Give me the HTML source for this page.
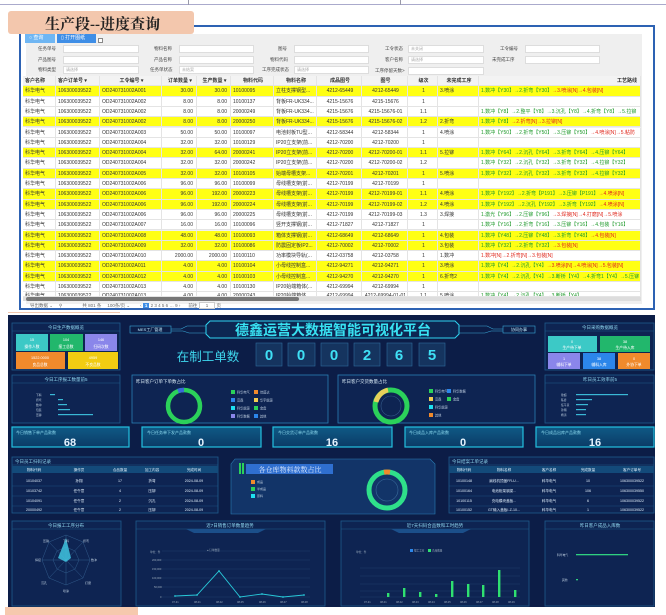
<!DOCTYPE html>
<html><head><meta charset="utf-8">
<style>
*{margin:0;padding:0;box-sizing:border-box}
body{width:666px;height:615px;background:#fff;position:relative;overflow:hidden;font-family:"Liberation Sans","Noto Sans CJK SC",sans-serif}
.abs{position:absolute}
.tab{left:8px;top:11px;width:186px;height:23px;background:#f3c7ad;border-radius:3px}
.tab span{position:absolute;left:37px;top:2px;font-family:"Liberation Serif","Noto Serif CJK SC",serif;font-size:15px;font-weight:bold;color:#222}
.frame{left:19px;top:25px;width:636px;height:285px;border:2px solid #2d62b3;background:#fff}
.gray{left:26px;top:34px;width:616px;height:270px;background:#efefef}
.btn{height:9px;font-size:5px;color:#fff;line-height:9px;padding-left:4px}
.lbl{font-size:4.5px;color:#444}
.inp{height:8px;background:#fff;border:1px solid #ddd}
.row{position:absolute;left:23px;width:618px;height:10.3px;display:flex;font-size:5px;line-height:10.3px;color:#333;border-bottom:1px solid #e4e4e4;background:#fff}
.row.y{background:#ffff14}
.row div{overflow:hidden;white-space:nowrap;padding-left:2px;border-right:1px solid #e4e4e4}
.row .r{text-align:right;padding-right:3px}
.row .c{text-align:center}
.hd{background:#f3f3f3;font-weight:bold;color:#333}
.g{color:#1e9a2a}.rd{color:#e0281c}
</style></head><body>
<div class="abs" style="left:0;top:0;width:666px;height:5px;border-bottom:1px solid #aac"></div>
<div class="abs" style="left:188px;top:0;width:1px;height:5px;background:#99a"></div>
<div class="abs" style="left:400px;top:0;width:1px;height:5px;background:#99a"></div>
<div class="abs frame"></div>
<div class="abs tab"><span>生产段--进度查询</span></div>
<div class="abs gray"></div>
<div class="abs btn" style="left:25px;top:34px;width:30px;background:#6fb6f3">○ 查询</div>
<div class="abs btn" style="left:57px;top:34px;width:39px;background:#3f8ee6">▯ 打开图纸</div>
<div class="abs" style="left:98px;top:38px;width:5px;height:5px;border:1px solid #888;background:#fff"></div>
<div class="abs lbl" style="left:38px;top:46px">任务单号</div><div class="abs inp" style="left:63px;top:45px;width:76px"></div>
<div class="abs lbl" style="left:154px;top:46px">物料名称</div><div class="abs inp" style="left:179px;top:45px;width:75px"></div>
<div class="abs lbl" style="left:278px;top:46px">图号</div><div class="abs inp" style="left:294px;top:45px;width:75px"></div>
<div class="abs lbl" style="left:385px;top:46px">工令状态</div><div class="abs inp" style="left:408px;top:45px;width:76px;font-size:4px;color:#aaa;padding-left:2px">未关闭</div>
<div class="abs lbl" style="left:500px;top:46px">工令编号</div><div class="abs inp" style="left:525px;top:45px;width:75px"></div>
<div class="abs lbl" style="left:38px;top:57px">产品图号</div><div class="abs inp" style="left:63px;top:56px;width:76px"></div>
<div class="abs lbl" style="left:154px;top:57px">产品名称</div><div class="abs inp" style="left:179px;top:56px;width:75px"></div>
<div class="abs lbl" style="left:270px;top:57px">物料代码</div><div class="abs inp" style="left:294px;top:56px;width:75px"></div>
<div class="abs lbl" style="left:385px;top:57px">客户名称</div><div class="abs inp" style="left:408px;top:56px;width:76px;font-size:4px;color:#aaa;padding-left:2px">请选择</div>
<div class="abs lbl" style="left:492px;top:57px">未完成工序</div><div class="abs inp" style="left:525px;top:56px;width:75px"></div>
<div class="abs lbl" style="left:38px;top:67px">物料类型</div><div class="abs inp" style="left:63px;top:66px;width:76px;font-size:4px;color:#aaa;padding-left:2px">请选择</div>
<div class="abs lbl" style="left:150px;top:67px">任务单状态</div><div class="abs inp" style="left:179px;top:66px;width:75px;font-size:4px;color:#aaa;padding-left:2px">未结案</div>
<div class="abs lbl" style="left:262px;top:67px">工序完成状态</div><div class="abs inp" style="left:294px;top:66px;width:75px;font-size:4px;color:#aaa;padding-left:2px">请选择</div>
<div class="abs lbl" style="left:375px;top:68px">工序停留天数&gt;</div><div class="abs inp" style="left:408px;top:67px;width:76px"></div>
<div class="row hd" style="top:76px">
<div style="width:33px">客户名称</div><div style="width:44px">客户订单号 ▾</div><div class="c" style="width:62px">工令编号 ▾</div><div class="c" style="width:35px">订单数量 ▾</div><div class="c" style="width:34px">生产数量 ▾</div><div class="c" style="width:43px">物料代码</div><div class="c" style="width:43px">物料名称</div><div class="c" style="width:45px">成品图号</div><div class="c" style="width:46px">图号</div><div class="c" style="width:30px">级次</div><div class="c" style="width:41px">未完成工序</div><div style="width:162px;text-align:right;padding-right:3px">工艺路线</div></div>

<div class="row y" style="top:86.3px"><div style="width:33px">科华电气</div><div style="width:44px">106300039522</div><div style="width:62px">OD240731002A001</div><div class="r" style="width:35px">30.00</div><div class="r" style="width:34px">30.00</div><div style="width:43px">10100095</div><div style="width:43px">立柱支撑钢型...</div><div class="c" style="width:45px">4212-65449</div><div class="c" style="width:46px">4212-65449</div><div class="c" style="width:30px">1</div><div style="width:41px">3.喷涂</div><div style="width:162px"><span class="g">1.数冲【Y30】→2.折弯【Y30】</span><span class="rd">→3.喷涂[N]→4.包装[N]</span></div></div>
<div class="row" style="top:96.6px"><div style="width:33px">科华电气</div><div style="width:44px">106300039522</div><div style="width:62px">OD240731002A002</div><div class="r" style="width:35px">8.00</div><div class="r" style="width:34px">8.00</div><div style="width:43px">10100137</div><div style="width:43px">背板FR-UK334...</div><div class="c" style="width:45px">4215-15676</div><div class="c" style="width:46px">4215-15676</div><div class="c" style="width:30px">1</div><div style="width:41px"></div><div style="width:162px"></div></div>
<div class="row" style="top:106.9px"><div style="width:33px">科华电气</div><div style="width:44px">106300039522</div><div style="width:62px">OD240731002A002</div><div class="r" style="width:35px">8.00</div><div class="r" style="width:34px">8.00</div><div style="width:43px">20000249</div><div style="width:43px">背板FR-UK334...</div><div class="c" style="width:45px">4215-15676</div><div class="c" style="width:46px">4215-15676-01</div><div class="c" style="width:30px">1.1</div><div style="width:41px"></div><div style="width:162px" class="g">1.数冲【Y8】→2.整平【Y8】→3.沉孔【Y8】→4.折弯【Y8】→5.拉铆</div></div>
<div class="row y" style="top:117.2px"><div style="width:33px">科华电气</div><div style="width:44px">106300039522</div><div style="width:62px">OD240731002A002</div><div class="r" style="width:35px">8.00</div><div class="r" style="width:34px">8.00</div><div style="width:43px">20000250</div><div style="width:43px">背板FR-UK334...</div><div class="c" style="width:45px">4215-15676</div><div class="c" style="width:46px">4215-15676-02</div><div class="c" style="width:30px">1.2</div><div style="width:41px">2.折弯</div><div style="width:162px"><span class="g">1.数冲【Y8】</span><span class="rd">→2.折弯[N]→3.拉铆[N]</span></div></div>
<div class="row" style="top:127.5px"><div style="width:33px">科华电气</div><div style="width:44px">106300039522</div><div style="width:62px">OD240731002A003</div><div class="r" style="width:35px">50.00</div><div class="r" style="width:34px">50.00</div><div style="width:43px">10100097</div><div style="width:43px">电池封板TU型...</div><div class="c" style="width:45px">4212-58344</div><div class="c" style="width:46px">4212-58344</div><div class="c" style="width:30px">1</div><div style="width:41px">4.喷涂</div><div style="width:162px"><span class="g">1.数冲【Y50】→2.折弯【Y50】→3.压铆【Y50】</span><span class="rd">→4.喷涂[N]→5.粘防</span></div></div>
<div class="row" style="top:137.8px"><div style="width:33px">科华电气</div><div style="width:44px">106300039522</div><div style="width:62px">OD240731002A004</div><div class="r" style="width:35px">32.00</div><div class="r" style="width:34px">32.00</div><div style="width:43px">10100129</div><div style="width:43px">IP20立支架(前...</div><div class="c" style="width:45px">4212-70200</div><div class="c" style="width:46px">4212-70200</div><div class="c" style="width:30px">1</div><div style="width:41px"></div><div style="width:162px"></div></div>
<div class="row y" style="top:148.1px"><div style="width:33px">科华电气</div><div style="width:44px">106300039522</div><div style="width:62px">OD240731002A004</div><div class="r" style="width:35px">32.00</div><div class="r" style="width:34px">64.00</div><div style="width:43px">20000241</div><div style="width:43px">IP20立支架(前...</div><div class="c" style="width:45px">4212-70200</div><div class="c" style="width:46px">4212-70200-01</div><div class="c" style="width:30px">1.1</div><div style="width:41px">5.拉铆</div><div style="width:162px"><span class="g">1.数冲【Y64】→2.沉孔【Y64】→3.折弯【Y64】→4.压铆【Y64】</span></div></div>
<div class="row" style="top:158.4px"><div style="width:33px">科华电气</div><div style="width:44px">106300039522</div><div style="width:62px">OD240731002A004</div><div class="r" style="width:35px">32.00</div><div class="r" style="width:34px">32.00</div><div style="width:43px">20000242</div><div style="width:43px">IP20立支架(前...</div><div class="c" style="width:45px">4212-70200</div><div class="c" style="width:46px">4212-70200-02</div><div class="c" style="width:30px">1.2</div><div style="width:41px"></div><div style="width:162px" class="g">1.数冲【Y32】→2.沉孔【Y32】→3.折弯【Y32】→4.拉铆【Y32】</div></div>
<div class="row y" style="top:168.7px"><div style="width:33px">科华电气</div><div style="width:44px">106300039522</div><div style="width:62px">OD240731002A005</div><div class="r" style="width:35px">32.00</div><div class="r" style="width:34px">32.00</div><div style="width:43px">10100105</div><div style="width:43px">始端母槽支架...</div><div class="c" style="width:45px">4212-70201</div><div class="c" style="width:46px">4212-70201</div><div class="c" style="width:30px">1</div><div style="width:41px">5.喷涂</div><div style="width:162px" class="g">1.数冲【Y32】→2.沉孔【Y32】→3.折弯【Y32】→4.拉铆【Y32】</div></div>
<div class="row" style="top:179px"><div style="width:33px">科华电气</div><div style="width:44px">106300039522</div><div style="width:62px">OD240731002A006</div><div class="r" style="width:35px">96.00</div><div class="r" style="width:34px">96.00</div><div style="width:43px">10100099</div><div style="width:43px">母线槽支架(前...</div><div class="c" style="width:45px">4212-70199</div><div class="c" style="width:46px">4212-70199</div><div class="c" style="width:30px">1</div><div style="width:41px"></div><div style="width:162px"></div></div>
<div class="row y" style="top:189.3px"><div style="width:33px">科华电气</div><div style="width:44px">106300039522</div><div style="width:62px">OD240731002A006</div><div class="r" style="width:35px">96.00</div><div class="r" style="width:34px">192.00</div><div style="width:43px">20000223</div><div style="width:43px">母线槽支架(前...</div><div class="c" style="width:45px">4212-70199</div><div class="c" style="width:46px">4212-70199-01</div><div class="c" style="width:30px">1.1</div><div style="width:41px">4.喷涂</div><div style="width:162px"><span class="g">1.数冲【Y192】→2.折弯【P191】→3.压铆【P191】</span><span class="rd">→4.喷涂[N]</span></div></div>
<div class="row y" style="top:199.6px"><div style="width:33px">科华电气</div><div style="width:44px">106300039522</div><div style="width:62px">OD240731002A006</div><div class="r" style="width:35px">96.00</div><div class="r" style="width:34px">192.00</div><div style="width:43px">20000224</div><div style="width:43px">母线槽支架(前...</div><div class="c" style="width:45px">4212-70199</div><div class="c" style="width:46px">4212-70199-02</div><div class="c" style="width:30px">1.2</div><div style="width:41px">4.喷涂</div><div style="width:162px"><span class="g">1.数冲【Y192】→2.沉孔【Y192】→3.折弯【Y192】</span><span class="rd">→4.喷涂[N]</span></div></div>
<div class="row" style="top:209.9px"><div style="width:33px">科华电气</div><div style="width:44px">106300039522</div><div style="width:62px">OD240731002A006</div><div class="r" style="width:35px">96.00</div><div class="r" style="width:34px">96.00</div><div style="width:43px">20000225</div><div style="width:43px">母线槽支架(前...</div><div class="c" style="width:45px">4212-70199</div><div class="c" style="width:46px">4212-70199-03</div><div class="c" style="width:30px">1.3</div><div style="width:41px">3.焊接</div><div style="width:162px"><span class="g">1.激光【Y96】→2.压铆【Y96】</span><span class="rd">→3.焊接[N]→4.打磨[N]→5.喷涂</span></div></div>
<div class="row" style="top:220.2px"><div style="width:33px">科华电气</div><div style="width:44px">106300039522</div><div style="width:62px">OD240731002A007</div><div class="r" style="width:35px">16.00</div><div class="r" style="width:34px">16.00</div><div style="width:43px">10100096</div><div style="width:43px">竖开支撑钢(前...</div><div class="c" style="width:45px">4212-71827</div><div class="c" style="width:46px">4212-71827</div><div class="c" style="width:30px">1</div><div style="width:41px"></div><div style="width:162px" class="g">1.数冲【Y16】→2.折弯【Y16】→3.压铆【Y16】→4.包装【Y16】</div></div>
<div class="row y" style="top:230.5px"><div style="width:33px">科华电气</div><div style="width:44px">106300039522</div><div style="width:62px">OD240731002A008</div><div class="r" style="width:35px">48.00</div><div class="r" style="width:34px">48.00</div><div style="width:43px">10100093</div><div style="width:43px">箱体支撑钢(前...</div><div class="c" style="width:45px">4212-68649</div><div class="c" style="width:46px">4212-68649</div><div class="c" style="width:30px">1</div><div style="width:41px">4.包装</div><div style="width:162px"><span class="g">1.数冲【Y48】→2.压铆【Y48】→3.折弯【Y48】</span><span class="rd">→4.包装[N]</span></div></div>
<div class="row y" style="top:240.8px"><div style="width:33px">科华电气</div><div style="width:44px">106300039522</div><div style="width:62px">OD240731002A009</div><div class="r" style="width:35px">32.00</div><div class="r" style="width:34px">32.00</div><div style="width:43px">10100086</div><div style="width:43px">防震固定板IP2...</div><div class="c" style="width:45px">4212-70002</div><div class="c" style="width:46px">4212-70002</div><div class="c" style="width:30px">1</div><div style="width:41px">3.包装</div><div style="width:162px"><span class="g">1.数冲【Y32】→2.折弯【Y32】</span><span class="rd">→3.包装[N]</span></div></div>
<div class="row" style="top:251.1px"><div style="width:33px">科华电气</div><div style="width:44px">106300039522</div><div style="width:62px">OD240731002A010</div><div class="r" style="width:35px">2000.00</div><div class="r" style="width:34px">2000.00</div><div style="width:43px">10100110</div><div style="width:43px">功率模块导轨(...</div><div class="c" style="width:45px">4212-03758</div><div class="c" style="width:46px">4212-03758</div><div class="c" style="width:30px">1</div><div style="width:41px">1.数冲</div><div style="width:162px" class="rd">1.数冲[N]→2.折弯[N]→3.包装[N]</div></div>
<div class="row y" style="top:261.4px"><div style="width:33px">科华电气</div><div style="width:44px">106300039522</div><div style="width:62px">OD240731002A011</div><div class="r" style="width:35px">4.00</div><div class="r" style="width:34px">4.00</div><div style="width:43px">10100104</div><div style="width:43px">小母线控制盒...</div><div class="c" style="width:45px">4212-94271</div><div class="c" style="width:46px">4212-94271</div><div class="c" style="width:30px">1</div><div style="width:41px">3.喷涂</div><div style="width:162px"><span class="g">1.数冲【Y4】→2.沉孔【Y4】</span><span class="rd">→3.喷涂[N]→4.喷涂[N]→5.包装[N]</span></div></div>
<div class="row y" style="top:271.7px"><div style="width:33px">科华电气</div><div style="width:44px">106300039522</div><div style="width:62px">OD240731002A012</div><div class="r" style="width:35px">4.00</div><div class="r" style="width:34px">4.00</div><div style="width:43px">10100103</div><div style="width:43px">小母线控制盒...</div><div class="c" style="width:45px">4212-94270</div><div class="c" style="width:46px">4212-94270</div><div class="c" style="width:30px">1</div><div style="width:41px">6.折弯2</div><div style="width:162px" class="g">1.数冲【Y4】→2.沉孔【Y4】→3.断桥【Y4】→4.折弯1【Y4】→5.压铆</div></div>
<div class="row" style="top:282px"><div style="width:33px">科华电气</div><div style="width:44px">106300039522</div><div style="width:62px">OD240731002A013</div><div class="r" style="width:35px">4.00</div><div class="r" style="width:34px">4.00</div><div style="width:43px">10100130</div><div style="width:43px">IP20始端箱体(...</div><div class="c" style="width:45px">4212-69994</div><div class="c" style="width:46px">4212-69994</div><div class="c" style="width:30px">1</div><div style="width:41px"></div><div style="width:162px"></div></div>
<div class="row" style="top:292.3px;height:5px;line-height:8px"><div style="width:33px">科华电气</div><div style="width:44px">106300039522</div><div style="width:62px">OD240731002A013</div><div class="r" style="width:35px">4.00</div><div class="r" style="width:34px">4.00</div><div style="width:43px">20000243</div><div style="width:43px">IP20始端箱体</div><div class="c" style="width:45px">4212-69994</div><div class="c" style="width:46px">4212-69994-01-01</div><div class="c" style="width:30px">1.1</div><div style="width:41px">5.喷涂</div><div style="width:162px" class="g">1.数冲【Y4】→2.沉孔【Y4】→3.断桥【Y4】</div></div>
<div class="abs" style="left:23px;top:297px;width:618px;height:4px;background:#ddd"></div>
<div class="abs" style="left:26px;top:297px;width:273px;height:4px;background:#777;border-radius:2px"></div>
<div class="abs" style="left:26px;top:302px;width:616px;height:7px;font-size:4.5px;color:#666;white-space:nowrap;line-height:7px">
<span style="margin-left:4px">导出数据 ⌄</span><span style="margin-left:6px">⚲</span><span style="margin-left:20px">共 801 条</span><span style="margin-left:6px">100条/页 ⌄</span><span style="margin-left:10px">‹ <b style="background:#3f8ee6;color:#fff;padding:0 2px">1</b> 2 3 4 5 6 … 9 ›</span><span style="margin-left:8px">前往 <span style="border:1px solid #ccc;padding:0 6px;background:#fff">1</span> 页</span></div>
<div class="abs" style="left:8px;top:312px;width:112px;height:1px;background:#f3c7ad"></div>

<svg class="abs" style="left:0;top:0" width="666" height="615" viewBox="0 0 666 615" font-family="Liberation Sans, Noto Sans CJK SC, sans-serif">
<defs>
<linearGradient id="kp" x1="0" y1="0" x2="0" y2="1"><stop offset="0" stop-color="#0f5a86"/><stop offset="1" stop-color="#0b3b66"/></linearGradient>
</defs>
<rect x="8" y="315" width="647" height="292" fill="#0c1d47"/>
<g fill="none" stroke="#1e5a8c" stroke-width="0.8">
<rect x="12" y="323" width="108" height="47" fill="#0e2452"/>
<rect x="545" y="323" width="109" height="47" fill="#0e2452"/>
<rect x="12" y="375" width="108" height="48" fill="#0e2452"/>
<rect x="132" y="375" width="196" height="48" fill="#0e2452" stroke="#2a7fb5"/>
<rect x="338" y="375" width="197" height="48" fill="#0e2452" stroke="#2a7fb5"/>
<rect x="545" y="375" width="109" height="48" fill="#0e2452"/>
<rect x="12" y="457" width="206" height="56" fill="#0e2452"/>
<rect x="449" y="457" width="205" height="56" fill="#0e2452"/>
<rect x="12" y="521" width="109" height="85" fill="#0e2452"/>
<rect x="136" y="521" width="189" height="85" fill="#0e2452"/>
<rect x="341" y="521" width="188" height="85" fill="#0e2452"/>
<rect x="545" y="521" width="109" height="85" fill="#0e2452"/>
</g>
<g fill="none" stroke="#1e5a8c" stroke-width="0.6">
<line x1="12" y1="331" x2="120" y2="331"/><line x1="545" y1="331" x2="654" y2="331"/>
<line x1="12" y1="383" x2="120" y2="383"/><line x1="545" y1="383" x2="654" y2="383"/>
<line x1="12" y1="465" x2="218" y2="465"/><line x1="449" y1="465" x2="654" y2="465"/>
<line x1="12" y1="529" x2="121" y2="529"/><line x1="136" y1="529" x2="325" y2="529"/><line x1="341" y1="529" x2="529" y2="529"/><line x1="545" y1="529" x2="654" y2="529"/>
</g>
<g fill="#8fd6ee" font-size="4.5" text-anchor="middle">
<text x="66" y="329">今日生产数据概览</text><text x="600" y="329">今日采购数据概览</text>
<text x="66" y="381">今日工序报工数量前5</text><text x="600" y="381">昨日员工效率前5</text>
<text x="66" y="527">今日报工工序分布</text><text x="230" y="527">近7日销售订单数量趋势</text><text x="435" y="527">近7天扫码合品数和工时趋势</text><text x="600" y="527">昨日客户成品入库数</text>
</g>
<g fill="#8fd6ee" font-size="4.5"><text x="15" y="463">今日员工扫码记录</text><text x="452" y="463">今日结案工单记录</text></g>
<rect x="16" y="334" width="32" height="17" fill="#3cc9c6"/><rect x="50" y="334" width="33" height="17" fill="#22b76c"/><rect x="85" y="334" width="32" height="17" fill="#8a86ea"/>
<rect x="16" y="352" width="49" height="17" fill="#f08a2c"/><rect x="68" y="352" width="50" height="17" fill="#f2cc12"/>
<g fill="#fff" font-size="3.8" text-anchor="middle"><text x="32" y="341">15</text><text x="32" y="348">操作人数</text><text x="66" y="341">104</text><text x="66" y="348">报工总数</text><text x="101" y="341">146</text><text x="101" y="348">扫码次数</text><text x="40" y="359">1522.0000</text><text x="40" y="366">良品总数</text><text x="93" y="359">4959</text><text x="93" y="366">不良品数</text></g>
<rect x="548" y="336" width="49" height="16" fill="#3cc9c6"/><rect x="600" y="336" width="50" height="16" fill="#22b76c"/>
<rect x="548" y="353" width="32" height="16" fill="#8a86ea"/><rect x="583" y="353" width="32" height="16" fill="#2c86ea"/><rect x="618" y="353" width="32" height="16" fill="#f08a2c"/>
<g fill="#fff" font-size="3.8" text-anchor="middle"><text x="572" y="343">0</text><text x="572" y="349">生产待下单</text><text x="625" y="343">38</text><text x="625" y="349">生产待入库</text><text x="564" y="360">1</text><text x="564" y="366">辅料下单</text><text x="599" y="360">38</text><text x="599" y="366">辅料入库</text><text x="634" y="360">0</text><text x="634" y="366">外协下单</text></g>
<rect x="130" y="326" width="41" height="7" fill="none" stroke="#3aa8d8" stroke-width="0.6"/><text x="150" y="331" fill="#bfe9f8" font-size="4" text-anchor="middle">MES工厂管理</text>
<rect x="503" y="326" width="32" height="7" fill="none" stroke="#3aa8d8" stroke-width="0.6"/><text x="519" y="331" fill="#bfe9f8" font-size="4" text-anchor="middle">协同办事</text>
<g stroke="#3aa8d8" stroke-width="0.6" fill="none"><path d="M171 329h10l6 -3h19M171 331h12l6 2h17"/><path d="M503 329h-10l-6 -3h-28M503 331h-12l-6 2h-26"/></g>
<path d="M210 321h245l4 4v9l-4 4h-245l-4-4v-9z" fill="#0d2752" stroke="#2fd3f0" stroke-width="1"/>
<text x="333" y="335" fill="#38e2f2" font-size="14" font-weight="bold" text-anchor="middle" font-family="Noto Sans CJK SC, sans-serif">德鑫运营大数据智能可视化平台</text>
<text x="208" y="361" fill="#3fd8ee" font-size="12.5" text-anchor="middle" font-family="Noto Sans CJK SC, sans-serif">在制工单数</text>
<g fill="#15345f" stroke="#2e6a9c" stroke-width="0.6">
<rect x="256" y="343" width="26" height="23"/><rect x="288" y="343" width="27" height="23"/><rect x="321" y="343" width="27" height="23"/><rect x="354" y="343" width="26" height="23"/><rect x="387" y="343" width="25" height="23"/><rect x="419" y="343" width="26" height="23"/></g>
<g fill="#3fe0f5" font-size="15" font-weight="bold" text-anchor="middle"><text x="269" y="360">0</text><text x="301" y="360">0</text><text x="334" y="360">0</text><text x="367" y="360">2</text><text x="399" y="360">6</text><text x="432" y="360">5</text></g>
<g fill="#d8eaf5" font-size="4.5"><text x="136" y="383">昨日客户订单下单数占比</text><text x="342" y="383">昨日客户交货数量占比</text></g>
<circle cx="184" cy="406" r="16" fill="none" stroke="#2bd15a" stroke-width="4.5"/>
<path d="M178 391 a16 16 0 0 1 6 -1" stroke="#3a6ad8" stroke-width="4.5" fill="none"/>
<circle cx="391" cy="406" r="16" fill="none" stroke="#2bd15a" stroke-width="5"/>
<path d="M376 402 a16 16 0 0 1 12 -12" stroke="#e8d05a" stroke-width="5" fill="none"/>
<circle cx="391" cy="406" r="10" fill="none" stroke="#345a8a" stroke-width="0.6"/>
<g font-size="3.2" fill="#b8c8dc">
<rect x="231" y="390" width="4" height="4" fill="#2bd15a"/><text x="237" y="393.5">科华电气</text><rect x="254" y="390" width="4" height="4" fill="#f08a2c"/><text x="260" y="393.5">佳盛达</text>
<rect x="231" y="398" width="4" height="4" fill="#2c86ea"/><text x="237" y="401.5">富森</text><rect x="254" y="398" width="4" height="4" fill="#f2cc52"/><text x="260" y="401.5">华宇能源</text>
<rect x="231" y="406" width="4" height="4" fill="#1ee0f0"/><text x="237" y="409.5">科华能源</text><rect x="254" y="406" width="4" height="4" fill="#2bd15a"/><text x="260" y="409.5">金盘</text>
<rect x="231" y="414" width="4" height="4" fill="#8a86ea"/><text x="237" y="417.5">科华数据</text><rect x="254" y="414" width="4" height="4" fill="#2c86ea"/><text x="260" y="417.5">其他</text>
<rect x="429" y="389" width="4" height="4" fill="#2bd15a"/><text x="435" y="392.5">科华电气</text><rect x="447" y="389" width="4" height="4" fill="#2c86ea"/><text x="453" y="392.5">科华数据</text>
<rect x="429" y="397" width="4" height="4" fill="#f2cc52"/><text x="435" y="400.5">富森</text><rect x="447" y="397" width="4" height="4" fill="#2bd15a"/><text x="453" y="400.5">金盘</text>
<rect x="429" y="405" width="4" height="4" fill="#1ee0f0"/><text x="435" y="408.5">科华能源</text>
<rect x="429" y="413" width="4" height="4" fill="#f08a2c"/><text x="435" y="416.5">其他</text>
</g>
<g fill="#bcd" font-size="2.8"><text x="36" y="396">下料</text><text x="36" y="401">折弯</text><text x="36" y="406">数冲</text><text x="36" y="411">包装</text><text x="36" y="416">压铆</text>
<text x="561" y="396">徐超</text><text x="561" y="401">陈彦</text><text x="561" y="406">任午意</text><text x="561" y="411">孙翔</text><text x="561" y="416">杨涛</text></g>
<g fill="#3ab8d6"><rect x="50" y="394" width="5" height="1.2"/><rect x="58" y="399" width="5" height="1.2"/><rect x="58" y="404" width="9" height="1.2"/><rect x="58" y="409" width="12" height="1.2"/><rect x="58" y="414" width="35" height="1.2"/>
<rect x="576" y="394" width="52" height="1.2"/><rect x="576" y="399" width="16" height="1.2"/><rect x="576" y="404" width="12" height="1.2"/><rect x="576" y="409" width="10" height="1.2"/><rect x="576" y="414" width="10" height="1.2"/></g>
<g fill="url(#kp)" stroke="#23c0e0" stroke-width="1.2">
<rect x="12" y="427" width="117" height="20"/><rect x="142" y="427" width="119" height="20"/><rect x="273" y="427" width="119" height="20"/><rect x="405" y="427" width="118" height="20"/><rect x="536" y="427" width="118" height="20"/></g>
<g fill="#8fdcf0" font-size="4"><text x="16" y="434">今日销售下单产品款数</text><text x="147" y="434">今日任务单下发产品款数</text><text x="278" y="434">今日交货订单产品款数</text><text x="409" y="434">今日成品入库产品款数</text><text x="541" y="434">今日成品出库产品款数</text></g>
<g fill="#e6f4ff" font-size="11" font-weight="bold" text-anchor="middle"><text x="70" y="446">68</text><text x="201" y="446">0</text><text x="332" y="446">16</text><text x="463" y="446">0</text><text x="595" y="446">16</text></g>
<rect x="12" y="466" width="206" height="7" fill="#134a7a"/><rect x="449" y="466" width="205" height="7" fill="#134a7a"/>
<g fill="#dfeefa" font-size="3.6" text-anchor="middle">
<text x="34" y="471">物料代码</text><text x="79" y="471">操作员</text><text x="120" y="471">合品数量</text><text x="152" y="471">加工内容</text><text x="194" y="471">完成时间</text>
<text x="34" y="482">10104037</text><text x="79" y="482">孙翔</text><text x="120" y="482">17</text><text x="152" y="482">折弯</text><text x="194" y="482">2024-08-09</text>
<text x="34" y="492">10103742</text><text x="79" y="492">任午意</text><text x="120" y="492">4</text><text x="152" y="492">压铆</text><text x="194" y="492">2024-08-09</text>
<text x="34" y="502">10104091</text><text x="79" y="502">任午意</text><text x="120" y="502">2</text><text x="152" y="502">沉孔</text><text x="194" y="502">2024-08-09</text>
<text x="34" y="511">20000492</text><text x="79" y="511">任午意</text><text x="120" y="511">2</text><text x="152" y="511">压铆</text><text x="194" y="511">2024-08-09</text>
<text x="464" y="471">物料代码</text><text x="504" y="471">物料名称</text><text x="549" y="471">客户名称</text><text x="588" y="471">完成数量</text><text x="632" y="471">客户订单号</text>
<text x="464" y="482">10100148</text><text x="504" y="482">扁线机顶盖FR-U...</text><text x="549" y="482">科华电气</text><text x="588" y="482">10</text><text x="632" y="482">106300039522</text>
<text x="464" y="492">10100164</text><text x="504" y="492">电池柜架钢梁...</text><text x="549" y="492">科华电气</text><text x="588" y="492">106</text><text x="632" y="492">106300039550</text>
<text x="464" y="502">10100115</text><text x="504" y="502">充电模块盖板...</text><text x="549" y="502">科华电气</text><text x="588" y="502">6</text><text x="632" y="502">106300039522</text>
<text x="464" y="511">10100152</text><text x="504" y="511">GT输入盖板I-Z-10...</text><text x="549" y="511">科华电气</text><text x="588" y="511">1</text><text x="632" y="511">106300039522</text>
</g>
<g stroke="#1e5a8c" stroke-width="0.4"><line x1="12" y1="486" x2="218" y2="486"/><line x1="12" y1="496" x2="218" y2="496"/><line x1="12" y1="506" x2="218" y2="506"/><line x1="449" y1="486" x2="654" y2="486"/><line x1="449" y1="496" x2="654" y2="496"/><line x1="449" y1="506" x2="654" y2="506"/></g>
<path d="M235 459h195l5 5v50h-204v-50z" fill="#123468" stroke="#2a7fb5" stroke-width="0.6"/>
<rect x="239" y="463" width="2" height="11" fill="#2bd15a"/><rect x="242" y="463" width="2" height="11" fill="#2bd15a"/>
<rect x="246" y="464" width="87" height="10" fill="#2f6fd0"/>
<text x="290" y="472" fill="#e0ecff" font-size="7" text-anchor="middle" font-family="Noto Serif CJK SC, serif">各仓库物料款数占比</text>
<g font-size="3" fill="#bcd"><rect x="251" y="480" width="4" height="4" fill="#f08a2c"/><text x="257" y="483">成品</text><rect x="251" y="487" width="4" height="4" fill="#2bd15a"/><text x="257" y="490">半成品</text><rect x="251" y="494" width="4" height="4" fill="#1ee0f0"/><text x="257" y="497">原料</text></g>
<circle cx="387" cy="490" r="18" fill="none" stroke="#2fe08a" stroke-width="5"/>
<path d="M384 472.2 a18 18 0 0 1 6 0" stroke="#f08a2c" stroke-width="5" fill="none"/>
<circle cx="387" cy="490" r="11" fill="none" stroke="#3a6a9a" stroke-width="0.6"/>
<g fill="none" stroke="#3a6a9a" stroke-width="0.4">
<polygon points="66,535 83,542 90,560 83,578 66,585 49,578 42,560 49,542"/>
<polygon points="66,547 75,551 79,560 75,569 66,573 57,569 53,560 57,551"/>
<line x1="66" y1="535" x2="66" y2="585"/><line x1="42" y1="560" x2="90" y2="560"/><line x1="49" y1="542" x2="83" y2="578"/><line x1="83" y1="542" x2="49" y2="578"/>
</g>
<polygon points="66,538 71,558 66,562 58,558" fill="#3fc4e0" opacity="0.85"/>
<g fill="#bcd" font-size="3" text-anchor="middle"><text x="66" y="542">下料</text><text x="86" y="542">折弯</text><text x="94" y="561">数冲</text><text x="88" y="584">打磨</text><text x="66" y="592">喷涂</text><text x="44" y="584">沉孔</text><text x="38" y="561">焊接</text><text x="46" y="542">压铆</text></g>
<path d="M186 529h80l-8 4h-64z" fill="#1b4f8a"/>
<g stroke="#23426e" stroke-width="0.4"><line x1="162" y1="551" x2="310" y2="551"/><line x1="162" y1="560" x2="310" y2="560"/><line x1="162" y1="569" x2="310" y2="569"/><line x1="162" y1="578" x2="310" y2="578"/><line x1="162" y1="587" x2="310" y2="587"/><line x1="162" y1="597" x2="310" y2="597"/></g>
<polyline points="175,596 197,595 219,571 240,597 262,594 283,597 304,595" fill="none" stroke="#28c8d8" stroke-width="0.9"/>
<g fill="#28c8d8"><circle cx="175" cy="596" r="0.9"/><circle cx="197" cy="595" r="0.9"/><circle cx="219" cy="571" r="0.9"/><circle cx="240" cy="597" r="0.9"/><circle cx="262" cy="594" r="0.9"/><circle cx="283" cy="597" r="0.9"/><circle cx="304" cy="595" r="0.9"/></g>
<g fill="#9ab" font-size="2.6"><text x="207" y="551">● 订单数量</text><text x="150" y="553">单位：件</text><text x="152" y="561">200,000</text><text x="152" y="570">150,000</text><text x="152" y="579">100,000</text><text x="154" y="588">50,000</text><text x="160" y="598">0</text>
<text x="172" y="603">07-31</text><text x="194" y="603">08-01</text><text x="216" y="603">08-02</text><text x="237" y="603">08-05</text><text x="259" y="603">08-06</text><text x="280" y="603">08-07</text><text x="301" y="603">08-08</text></g>
<path d="M391 529h80l-8 4h-64z" fill="#1b4f8a"/>
<g stroke="#23426e" stroke-width="0.4"><line x1="360" y1="568" x2="520" y2="568"/><line x1="360" y1="576" x2="520" y2="576"/><line x1="360" y1="584" x2="520" y2="584"/><line x1="360" y1="591" x2="520" y2="591"/><line x1="360" y1="597" x2="520" y2="597"/></g>
<g fill="#2fe070"><rect x="387" y="593" width="2.4" height="4"/><rect x="403" y="588" width="2.4" height="9"/><rect x="419" y="592" width="2.4" height="5"/><rect x="435" y="594" width="2.4" height="3"/><rect x="451" y="581" width="2.4" height="16"/><rect x="467" y="584" width="2.4" height="13"/><rect x="482" y="585" width="2.4" height="12"/><rect x="498" y="570" width="2.4" height="27"/><rect x="514" y="590" width="2.4" height="7"/></g>
<g fill="#9ab" font-size="2.6"><rect x="410" y="549" width="3" height="3" fill="#2c86ea"/><text x="414" y="551.5">报工工时</text><rect x="428" y="549" width="3" height="3" fill="#2fe070"/><text x="432" y="551.5">合品数量</text><text x="356" y="553">单位：件</text>
<text x="364" y="603">07-31</text><text x="380" y="603">08-01</text><text x="396" y="603">08-02</text><text x="412" y="603">08-03</text><text x="428" y="603">08-04</text><text x="444" y="603">08-05</text><text x="460" y="603">08-06</text><text x="476" y="603">08-07</text><text x="492" y="603">08-08</text><text x="508" y="603">08-09</text></g>
<rect x="576" y="554" width="52" height="1.3" fill="#2fd080"/><text x="557" y="556" fill="#bcd" font-size="2.8">科华电气</text>
<rect x="576" y="579" width="2" height="1.3" fill="#2fd080"/><text x="562" y="581" fill="#bcd" font-size="2.8">其他</text>
<rect x="5" y="607" width="133" height="8" fill="#f6c9ae"/>
</svg>
</body></html>
